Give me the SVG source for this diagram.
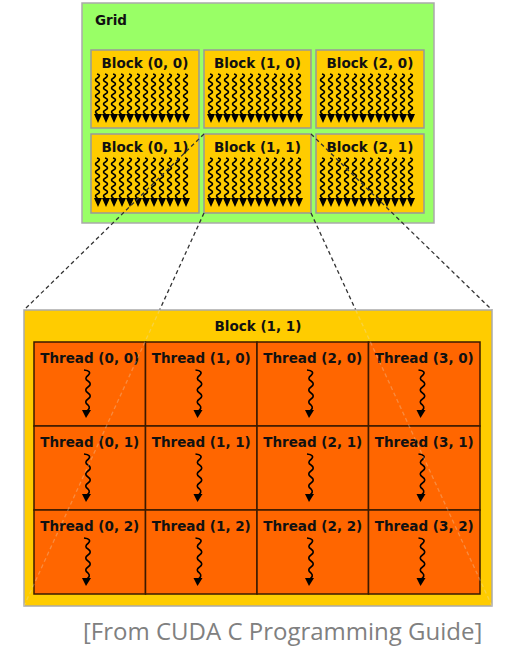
<svg xmlns="http://www.w3.org/2000/svg" xmlns:xlink="http://www.w3.org/1999/xlink" width="505" height="646" viewBox="0 0 505 646">
<style>
.lbl{font-family:"DejaVu Sans",Verdana,sans-serif;font-weight:bold;font-size:13.5px;fill:#111}
.blk{fill:#FFCC00;stroke:#999;stroke-width:1.5}
.cell{fill:#FF6600;stroke:#3a1a00;stroke-width:1.5}
.wv{fill:none;stroke:#000;stroke-width:1.6}
.tw{fill:none;stroke:#000;stroke-width:1.6}
.dash{fill:none;stroke:#333;stroke-width:1.3;stroke-dasharray:4 3}
.faint{fill:none;stroke:#e8e0d0;stroke-opacity:0.3;stroke-width:1.3;stroke-dasharray:4 3}
</style>
<defs>
<path id="w" class="wv" d="M-1,0 q4.5,1 0.5,4 q-4,2 0,4 q4,2 0,4 q-4,2 0,4 q4,2 0,4 q-4,2 0,4 q4,2 0,4 q-4,2 0,4 q4,2 0,4 q-4,2 0,4"/>
<g id="bt">
<use xlink:href="#w" x="7" y="24"/><use xlink:href="#w" x="15" y="24"/><use xlink:href="#w" x="23" y="24"/><use xlink:href="#w" x="31" y="24"/>
<use xlink:href="#w" x="39" y="24"/><use xlink:href="#w" x="47" y="24"/><use xlink:href="#w" x="55" y="24"/><use xlink:href="#w" x="63" y="24"/>
<use xlink:href="#w" x="71" y="24"/><use xlink:href="#w" x="79" y="24"/><use xlink:href="#w" x="87" y="24"/><use xlink:href="#w" x="95" y="24"/>
<path fill="#000" d="M3,64 l4,9 l4,-9 l4,9 l4,-9 l4,9 l4,-9 l4,9 l4,-9 l4,9 l4,-9 l4,9 l4,-9 l4,9 l4,-9 l4,9 l4,-9 l4,9 l4,-9 l4,9 l4,-9 l4,9 l4,-9 l4,9 l4,-9 z"/>
</g>
<g id="th">
<path class="tw" d="M-4,0 Q4,1 0.5,5 Q-4.5,8.5 0,11 Q4.5,14 0,17 Q-4.5,20 0,23 Q4.5,26 0,29 Q-4.5,32 0,35 Q3,38 -1,41"/>
<polygon fill="#000" points="-6,40 3,40 -2,48"/>
</g>
</defs>

<g id="grid">
<rect x="82" y="3" width="352" height="220" fill="#99FF66" stroke="#aaa" stroke-width="1.5"/>
<text class="lbl" x="95" y="25">Grid</text>
</g>
<g id="block-0-0"><rect class="blk" x="91" y="50" width="108" height="78"/><text class="lbl" x="145" y="68" text-anchor="middle">Block (0, 0)</text><use xlink:href="#bt" x="91" y="50"/></g>
<g id="block-1-0"><rect class="blk" x="204" y="50" width="107" height="78"/><text class="lbl" x="257.5" y="68" text-anchor="middle">Block (1, 0)</text><use xlink:href="#bt" x="204" y="50"/></g>
<g id="block-2-0"><rect class="blk" x="316" y="50" width="108" height="78"/><text class="lbl" x="370" y="68" text-anchor="middle">Block (2, 0)</text><use xlink:href="#bt" x="316" y="50"/></g>
<g id="block-0-1"><rect class="blk" x="91" y="134" width="108" height="79"/><text class="lbl" x="145" y="152" text-anchor="middle">Block (0, 1)</text><use xlink:href="#bt" x="91" y="134"/></g>
<g id="block-1-1"><rect class="blk" x="204" y="134" width="107" height="79"/><text class="lbl" x="257.5" y="152" text-anchor="middle">Block (1, 1)</text><use xlink:href="#bt" x="204" y="134"/></g>
<g id="block-2-1"><rect class="blk" x="316" y="134" width="108" height="79"/><text class="lbl" x="370" y="152" text-anchor="middle">Block (2, 1)</text><use xlink:href="#bt" x="316" y="134"/></g>

<g id="connectors">
<line class="dash" x1="204" y1="134" x2="24" y2="310"/>
<line class="dash" x1="311" y1="134" x2="492" y2="310"/>
<line class="dash" x1="204" y1="213" x2="159.6" y2="310"/>
<line class="dash" x1="311" y1="213" x2="355.7" y2="310"/>
</g>

<g id="block-detail">
<rect x="24" y="310" width="468" height="296" fill="#FFCC00" stroke="#aaa" stroke-width="1.5"/>
<text class="lbl" x="258" y="331" text-anchor="middle">Block (1, 1)</text>
</g>

<g id="thread-0-0"><rect class="cell" x="34" y="342" width="111.5" height="84"/><text class="lbl" x="89.75" y="363" text-anchor="middle">Thread (0, 0)</text><use xlink:href="#th" x="88" y="370"/></g>
<g id="thread-1-0"><rect class="cell" x="145.5" y="342" width="111.5" height="84"/><text class="lbl" x="201.25" y="363" text-anchor="middle">Thread (1, 0)</text><use xlink:href="#th" x="199.5" y="370"/></g>
<g id="thread-2-0"><rect class="cell" x="257" y="342" width="111.5" height="84"/><text class="lbl" x="312.75" y="363" text-anchor="middle">Thread (2, 0)</text><use xlink:href="#th" x="311" y="370"/></g>
<g id="thread-3-0"><rect class="cell" x="368.5" y="342" width="111.5" height="84"/><text class="lbl" x="424.25" y="363" text-anchor="middle">Thread (3, 0)</text><use xlink:href="#th" x="422.5" y="370"/></g>
<g id="thread-0-1"><rect class="cell" x="34" y="426" width="111.5" height="84"/><text class="lbl" x="89.75" y="447" text-anchor="middle">Thread (0, 1)</text><use xlink:href="#th" x="88" y="454"/></g>
<g id="thread-1-1"><rect class="cell" x="145.5" y="426" width="111.5" height="84"/><text class="lbl" x="201.25" y="447" text-anchor="middle">Thread (1, 1)</text><use xlink:href="#th" x="199.5" y="454"/></g>
<g id="thread-2-1"><rect class="cell" x="257" y="426" width="111.5" height="84"/><text class="lbl" x="312.75" y="447" text-anchor="middle">Thread (2, 1)</text><use xlink:href="#th" x="311" y="454"/></g>
<g id="thread-3-1"><rect class="cell" x="368.5" y="426" width="111.5" height="84"/><text class="lbl" x="424.25" y="447" text-anchor="middle">Thread (3, 1)</text><use xlink:href="#th" x="422.5" y="454"/></g>
<g id="thread-0-2"><rect class="cell" x="34" y="510" width="111.5" height="84"/><text class="lbl" x="89.75" y="531" text-anchor="middle">Thread (0, 2)</text><use xlink:href="#th" x="88" y="538"/></g>
<g id="thread-1-2"><rect class="cell" x="145.5" y="510" width="111.5" height="84"/><text class="lbl" x="201.25" y="531" text-anchor="middle">Thread (1, 2)</text><use xlink:href="#th" x="199.5" y="538"/></g>
<g id="thread-2-2"><rect class="cell" x="257" y="510" width="111.5" height="84"/><text class="lbl" x="312.75" y="531" text-anchor="middle">Thread (2, 2)</text><use xlink:href="#th" x="311" y="538"/></g>
<g id="thread-3-2"><rect class="cell" x="368.5" y="510" width="111.5" height="84"/><text class="lbl" x="424.25" y="531" text-anchor="middle">Thread (3, 2)</text><use xlink:href="#th" x="422.5" y="538"/></g>

<g id="connectors-faint">
<line class="faint" x1="159.6" y1="310" x2="24" y2="606"/>
<line class="faint" x1="355.7" y1="310" x2="492" y2="606"/>
</g>

<text x="83" y="640" font-family="'Open Sans','Noto Sans',sans-serif" font-size="24" fill="#808080">[From CUDA C Programming Guide]</text>
</svg>
